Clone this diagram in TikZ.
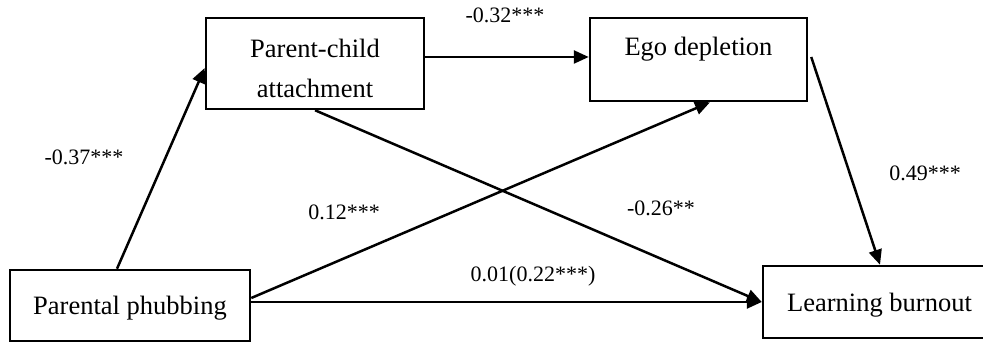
\documentclass[tikz,border=0pt]{standalone}
\usepackage{fontspec}
\setmainfont{Liberation Serif}
\usetikzlibrary{arrows.meta,calc}
\tikzset{
  box/.style={draw=black, line width=2.5pt, inner sep=0pt},
  boxtext/.style={font=\fontsize{26.5}{40}\selectfont, align=center, inner sep=0pt},
  lbl/.style={font=\fontsize{22}{26}\selectfont, inner sep=0pt},
  link/.style={line width=2.5pt, -{Triangle[length=15pt,width=13pt]}}
}
\begin{document}
\begin{tikzpicture}[x=1pt,y=-1pt]
\useasboundingbox[fill=white] (0,0) rectangle (983,344);
% boxes
\node[box, minimum width=218pt, minimum height=91pt] (pca) at (315,63.5) {};
\node[boxtext] (pcat) at (315,68) {Parent-child\\attachment};
\node[box, minimum width=217pt, minimum height=83pt] (ed) at (698.5,59.5) {};
\node[boxtext] (edt) at (698.5,49) {Ego depletion};
\node[box, minimum width=240pt, minimum height=71pt] (pp) at (130,305.5) {};
\node[boxtext] (ppt) at (130,308) {Parental phubbing};
\node[box, minimum width=234pt, minimum height=72pt] (lb) at (880,302) {};
\node[boxtext] (lbt) at (879.5,305) {Learning burnout};
% connectors
\draw[link] ([xshift=-13pt]pp.north) -- ([yshift=-4.5pt]pca.west);
\draw[link] ([yshift=6.5pt]pca.east) -- ([yshift=6.5pt]pca.east -| ed.west);
\draw[link] ([yshift=7.5pt]pp.east) -- ([xshift=11.5pt]ed.south);
\draw[link] (pca.south) -- (lb.west);
\draw[link] ([yshift=3.5pt]pp.east) -- ([yshift=3.5pt]pp.east -| lb.west);
\draw[link] ([xshift=3pt,yshift=2.5pt]ed.east) -- (lb.north);
% labels
\node[lbl] (l1) at (84,157) {-0.37***};
\node[lbl] (l2) at (505,15) {-0.32***};
\node[lbl] (l3) at (344,212) {0.12***};
\node[lbl] (l4) at (661,208) {-0.26**};
\node[lbl] (l5) at (925,173) {0.49***};
\node[lbl] (l6) at (533,276) {0.01(0.22***)};
\end{tikzpicture}
\end{document}
